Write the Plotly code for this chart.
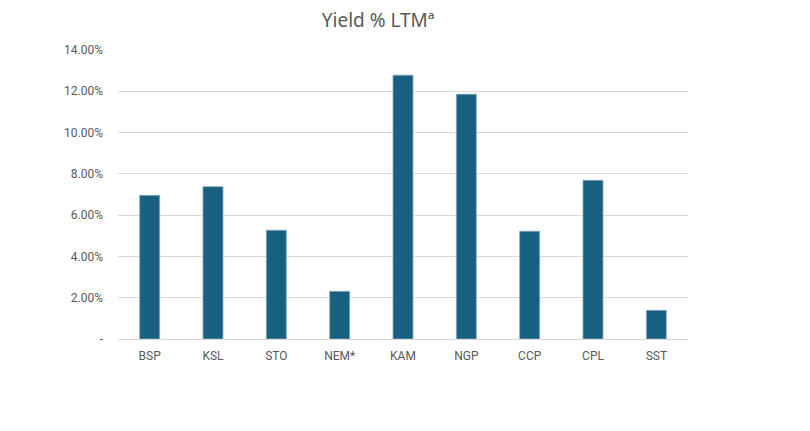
import plotly.graph_objects as go

categories = ["BSP", "KSL", "STO", "NEM*", "KAM", "NGP", "CCP", "CPL", "SST"]
yield_pct = [6.96, 7.38, 5.27, 2.31, 12.78, 11.86, 5.22, 7.69, 1.39]
tick_vals = [0, 2, 4, 6, 8, 10, 12, 14]
tick_text = ["-", "2.00%", "4.00%", "6.00%", "8.00%", "10.00%", "12.00%", "14.00%"]

fig = go.Figure(go.Bar(
    x=categories, y=yield_pct,
    marker=dict(color="#17607F", line=dict(color="#8FA9BE", width=0.8)),
))

fig.update_layout(
    width=810, height=431,
    margin=dict(l=110, r=130, t=42, b=100),
    paper_bgcolor="white", plot_bgcolor="white",
    title=dict(text="Yield % LTMª", x=0.457, xanchor="center", y=0.972, yanchor="middle",
               font=dict(family="Noto Sans, Open Sans, sans-serif", size=19, color="#595959")),
    bargap=0.684,
    showlegend=False,
    font=dict(family="Roboto, Liberation Sans, sans-serif", size=12, color="#595959"),
)
fig.update_xaxes(showgrid=False, showline=True, linecolor="#D9D9D9", linewidth=1,
                 ticks="", ticklabelstandoff=6, automargin=False,
                 tickfont=dict(size=12, color="#595959"))
fig.update_yaxes(range=[0, 14], tickvals=tick_vals, ticktext=tick_text,
                 showgrid=True, gridcolor="#D9D9D9", gridwidth=1, zeroline=False,
                 showline=False, ticks="", ticklabelstandoff=14, automargin=False,
                 tickfont=dict(size=12, color="#595959"))

fig.write_html("out.html")
